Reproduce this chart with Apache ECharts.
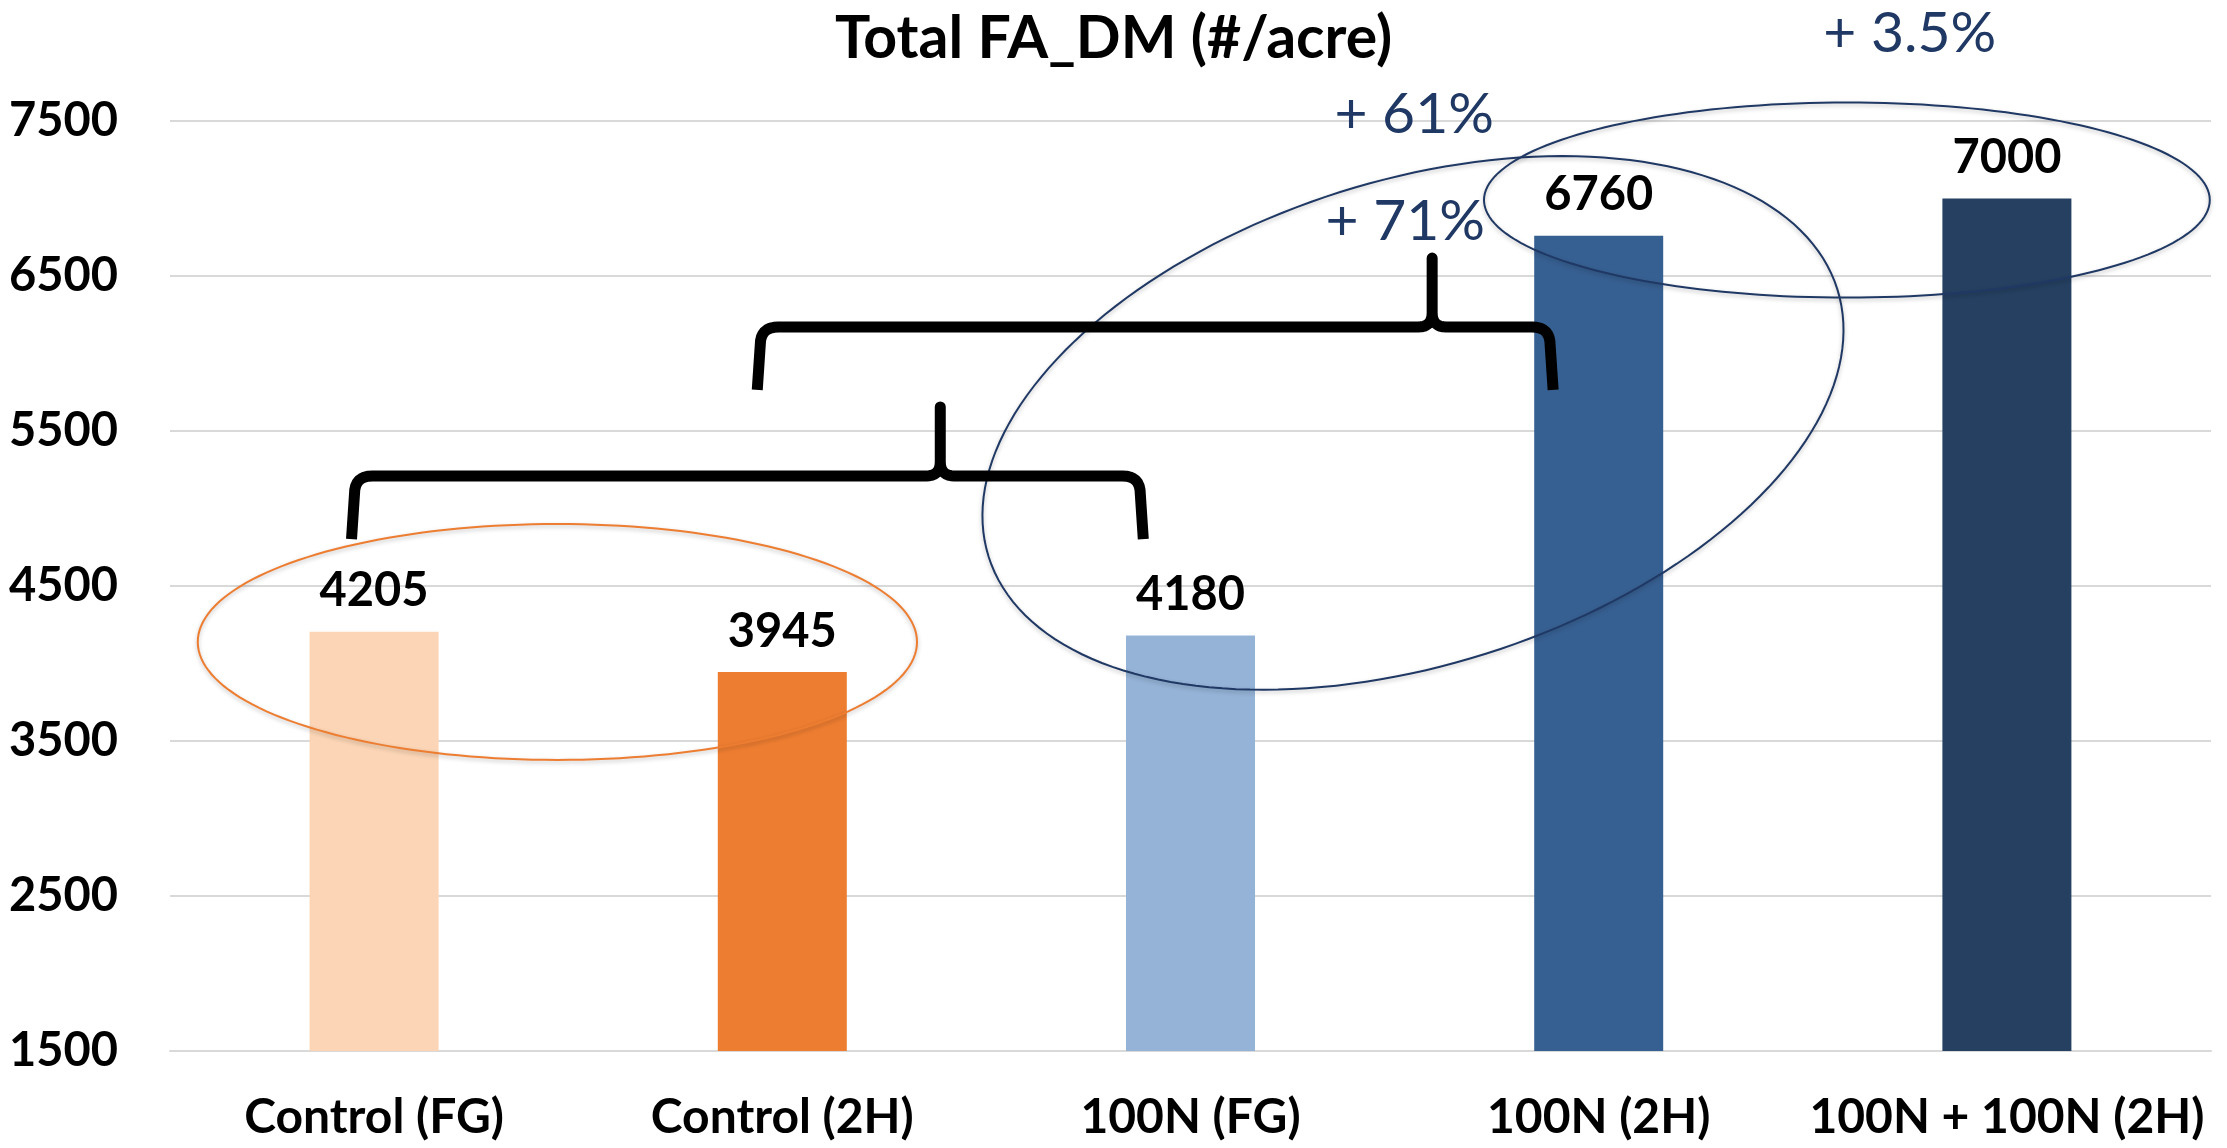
<!DOCTYPE html>
<html>
<head>
<meta charset="utf-8">
<script src="https://cdn.jsdelivr.net/npm/echarts@6/dist/echarts.min.js"></script>
<style>html,body{margin:0;padding:0;background:#fff}#c{width:2227px;height:1148px}</style>
</head>
<body>
<div id="c"></div>
<script>
// ---- data ----
const categories = ['Control (FG)', 'Control (2H)', '100N (FG)', '100N (2H)', '100N + 100N (2H)'];
const values = [4205, 3945, 4180, 6760, 7000];
const yMin = 1500;
const yMax = 7500;
const yStep = 1000;
const titleText = 'Total FA_DM (#/acre)';
const changeLabels = ['+ 61%', '+ 71%', '+ 3.5%'];

// ---- styles ----
const barColors = ['#FBD5B5', '#ED7D31', '#95B3D7', '#376092', '#254061'];
const FONT = 'Lato, "Open Sans", sans-serif';
const NAVY = '#1F3864';

// ---- annotation geometry (category index units, value units) ----
const changeAnchors = [[2.548, 7539], [2.526, 6848], [3.762, 8061]];
const ellipses = [
  { c: 0.449, v: 4139, a: 0.881, b: 0.289, rot: 0, color: '#ED7D31' },
  { c: 2.545, v: 5552, a: 1.090, b: 0.593, rot: 17.5, color: '#1F3864' },
  { c: 3.608, v: 6990, a: 0.889, b: 0.239, rot: 0, color: '#1F3864' }
];
const brackets = [
  { l: -0.048, r: 1.877, p: 1.387, bottom: 4803, bar: 5210, top: 5655 },
  { l: 0.946, r: 2.881, p: 2.592, bottom: 5765, bar: 6171, top: 6616 }
];

const chart = echarts.init(document.getElementById('c'), null, { renderer: 'canvas' });
const option = {
  animation: false,
  backgroundColor: '#fff',
  title: {
    text: titleText, left: 'center', top: 4,
    textStyle: { fontFamily: FONT, fontSize: 59, fontWeight: 'bold', color: '#000' }
  },
  grid: { left: 170, right: 16, top: 121, bottom: 97 },
  xAxis: {
    type: 'category', data: categories,
    axisTick: { show: false },
    axisLine: { show: true, lineStyle: { color: '#D9D9D9', width: 2 } },
    axisLabel: { interval: 0, fontFamily: FONT, fontSize: 48, fontWeight: 'bold', color: '#000', margin: 43 }
  },
  yAxis: {
    type: 'value', min: yMin, max: yMax, interval: yStep,
    axisLine: { show: false }, axisTick: { show: false },
    splitLine: { lineStyle: { color: '#D9D9D9', width: 2 } },
    axisLabel: { fontFamily: FONT, fontSize: 47, fontWeight: 'bold', color: '#000', margin: 52,
      formatter: function (v) { return String(v); } }
  },
  series: [{
    type: 'bar', barWidth: 129,
    data: values.map((v, i) => ({ value: v, itemStyle: { color: barColors[i] } })),
    label: { show: true, position: 'top', distance: 17, fontFamily: FONT, fontSize: 47, fontWeight: 'bold', color: '#000' }
  }]
};
chart.setOption(option);

function toPx(c, v) {
  const p0 = chart.convertToPixel({ gridIndex: 0 }, [0, v]);
  const p1 = chart.convertToPixel({ gridIndex: 0 }, [1, v]);
  return [p0[0] + c * (p1[0] - p0[0]), p0[1]];
}
const stepPx = toPx(1, yMin)[0] - toPx(0, yMin)[0];

function ellipsePoints(e) {
  const [cx, cy] = toPx(e.c, e.v);
  const A = e.a * stepPx, B = e.b * stepPx;
  const th = e.rot * Math.PI / 180;
  const pts = [];
  for (let i = 0; i < 180; i++) {
    const t = i / 180 * Math.PI * 2;
    const ux = A * Math.cos(t), uy = B * Math.sin(t);
    const rx = ux * Math.cos(th) - uy * Math.sin(th);
    const ry = ux * Math.sin(th) + uy * Math.cos(th);
    pts.push([cx + rx, cy - ry]);
  }
  return pts;
}
function quad(p0, cp, p1, n) {
  const out = [];
  for (let i = 1; i <= n; i++) {
    const t = i / n;
    out.push([
      (1 - t) * (1 - t) * p0[0] + 2 * (1 - t) * t * cp[0] + t * t * p1[0],
      (1 - t) * (1 - t) * p0[1] + 2 * (1 - t) * t * cp[1] + t * t * p1[1]
    ]);
  }
  return out;
}
function bracketPoints(b) {
  const xl = toPx(b.l, yMin)[0], xr = toPx(b.r, yMin)[0], xp = toPx(b.p, yMin)[0];
  const yb = toPx(0, b.bottom)[1], yh = toPx(0, b.bar)[1], yt = toPx(0, b.top)[1];
  const r = 18, s = 14;
  let pts = [[xl - 3, yb], [xl, yh + r]];
  pts = pts.concat(quad([xl, yh + r], [xl, yh], [xl + r, yh], 8));
  pts.push([xp - s, yh]);
  pts = pts.concat(quad([xp - s, yh], [xp, yh], [xp, yh - s], 8));
  pts.push([xp, yt]);
  pts.push([xp, yh - s]);
  pts = pts.concat(quad([xp, yh - s], [xp, yh], [xp + s, yh], 8));
  pts.push([xr - r, yh]);
  pts = pts.concat(quad([xr - r, yh], [xr, yh], [xr, yh + r], 8));
  pts.push([xr + 3, yb]);
  return pts;
}

const graphics = [];
ellipses.forEach(e => {
  graphics.push({
    type: 'polygon', z: 100, silent: true,
    shape: { points: ellipsePoints(e) },
    style: { fill: 'none', stroke: e.color, lineWidth: 2, shadowColor: 'rgba(0,0,0,0.25)', shadowBlur: 4, shadowOffsetY: 2 }
  });
});
brackets.forEach(b => {
  graphics.push({
    type: 'polyline', z: 101, silent: true,
    shape: { points: bracketPoints(b) },
    style: { stroke: '#000', lineWidth: 11, lineJoin: 'round', fill: null }
  });
});
changeLabels.forEach((t, i) => {
  const [x, y] = toPx(changeAnchors[i][0], changeAnchors[i][1]);
  graphics.push({
    type: 'text', z: 102, silent: true, x: x, y: y,
    style: {
      text: t, fill: NAVY, fontFamily: FONT, fontSize: 57, fontWeight: 'normal',
      align: 'center', verticalAlign: 'middle', textAlign: 'center', textVerticalAlign: 'middle'
    }
  });
});
chart.setOption({ graphic: graphics });
</script>
</body>
</html>
